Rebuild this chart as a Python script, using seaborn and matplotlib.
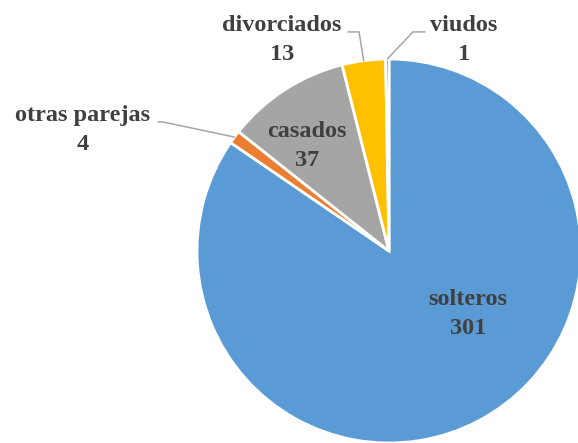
import matplotlib
matplotlib.use('Agg')
import matplotlib.pyplot as plt
import numpy as np
import seaborn as sns

# data
categories = ['solteros', 'otras parejas', 'casados', 'divorciados', 'viudos']
counts = [301, 4, 37, 13, 1]
slice_colors = ['#5B9BD5', '#ED7D31', '#A5A5A5', '#FFC000', '#4472C4']

sns.set_theme(style='white')
plt.rcParams['font.family'] = ['Liberation Serif', 'DejaVu Serif']

text_color = '#404040'
line_color = '#A6A6A6'

# label block centres (data coords, pie radius = 1)
label_pos = {
    'solteros': (0.411, -0.328),
    'otras parejas': (-1.594, 0.630),
    'casados': (-0.427, 0.547),
    'divorciados': (-0.557, 1.099),
    'viudos': (0.391, 1.099),
}
# leader lines: elbow point and end point near the text
leaders = {
    'otras parejas': [(-1.177, 0.672), (-1.203, 0.672)],
    'divorciados': [(-0.156, 1.141), (-0.214, 1.141)],
    'viudos': [(0.125, 1.141), (0.1875, 1.141)],
}

fig = plt.figure(figsize=(5.78, 4.43), dpi=100)
ax = fig.add_axes([197 / 578, 0.0, 384 / 578, 384 / 443])

wedges, _ = ax.pie(counts, colors=slice_colors, startangle=90, counterclock=False,
                   radius=1.0, wedgeprops=dict(edgecolor='white', linewidth=2.0))
for w in wedges:
    w.set_clip_on(False)

ax.set_xlim(-1, 1)
ax.set_ylim(-1, 1)
ax.set_aspect('equal')
ax.axis('off')

for w, name, val in zip(wedges, categories, counts):
    x, y = label_pos[name]
    ax.text(x, y, f'{name}\n{val}', ha='center', va='center', fontsize=17.5,
            fontweight='bold', color=text_color, linespacing=1.5, clip_on=False)
    if name in leaders:
        mid = np.deg2rad((w.theta1 + w.theta2) / 2)
        pts = [(np.cos(mid), np.sin(mid))] + leaders[name]
        xs, ys = zip(*pts)
        ax.plot(xs, ys, color=line_color, lw=1.1, clip_on=False)

fig.savefig('out.png', dpi=100)
